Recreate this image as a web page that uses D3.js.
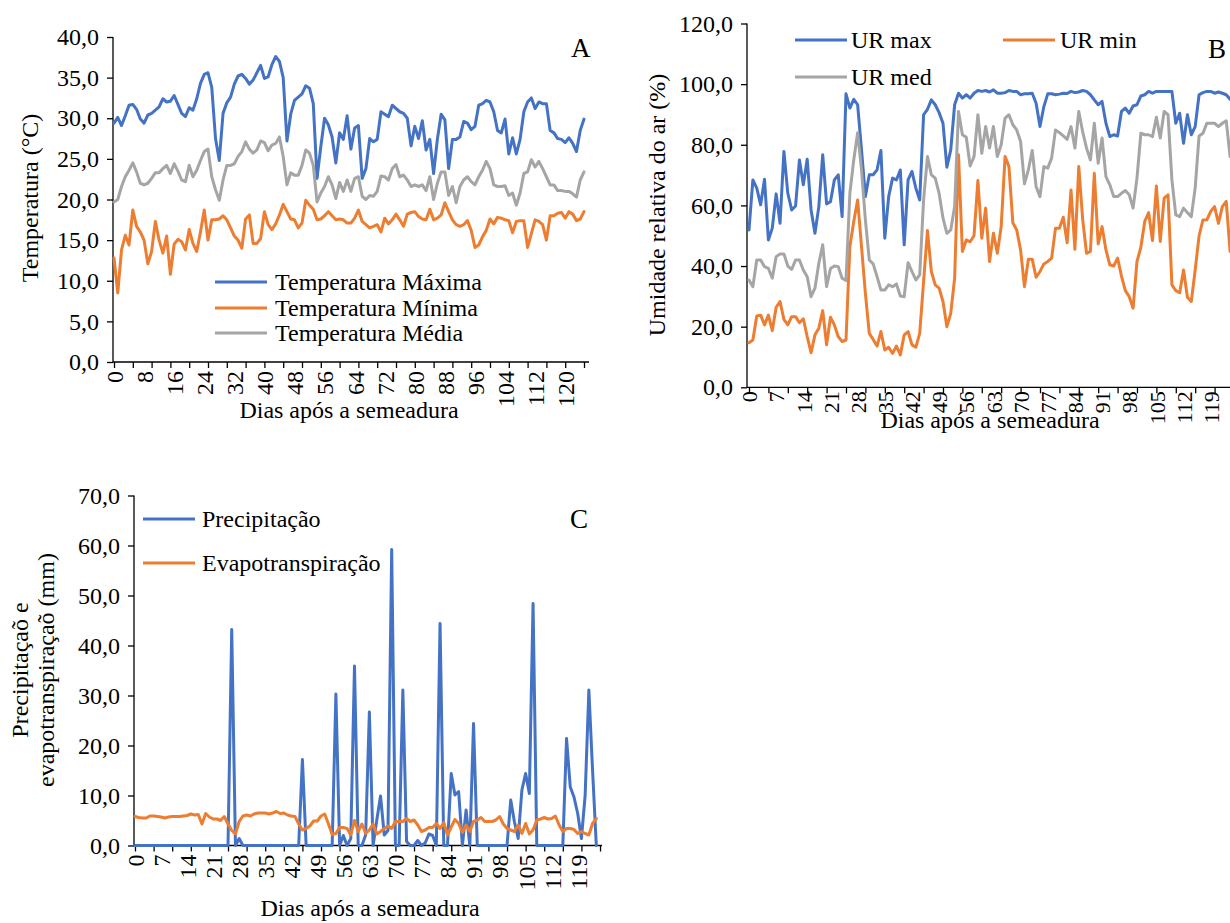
<!DOCTYPE html>
<html><head><meta charset="utf-8">
<script src="https://cdn.jsdelivr.net/npm/d3@7"></script>
<style>
body{margin:0;background:#fff}
svg{display:block}
text{font-family:"Liberation Serif","Times New Roman",serif;fill:#000}
</style>
</head><body>
<svg id="c" width="1230" height="923"></svg>
<script>
// ---------- Panel A: temperatures (°C), one value per day after sowing ----------
const tempMax = [29.4,30.1,29.1,30.3,31.6,31.7,31.1,29.9,29.4,30.4,
30.6,31.0,31.4,32.4,32.0,32.1,32.8,31.7,30.6,30.2,
31.3,31.0,32.4,34.3,35.4,35.6,33.8,27.5,24.8,30.6,
31.9,32.6,34.2,35.2,35.4,34.9,34.2,34.7,35.6,36.5,
34.9,35.1,36.6,37.6,37.0,35.0,27.2,30.5,32.2,32.6,
33.0,34.0,33.7,31.8,22.6,26.5,30.0,29.2,27.7,24.5,
28.2,27.4,30.3,26.2,28.8,29.1,22.6,23.8,27.5,27.1,
27.4,30.8,30.5,30.2,31.6,31.2,30.8,30.6,30.0,26.6,
29.0,27.5,29.7,26.1,27.4,23.2,27.4,30.5,29.8,23.8,
27.4,27.4,27.7,29.6,29.4,28.6,29.0,31.6,31.8,32.2,
32.0,30.8,28.5,28.2,29.9,25.6,27.6,25.6,27.4,30.8,
32.0,32.5,31.2,32.0,31.8,31.8,28.5,28.2,27.5,27.4,
27.0,27.6,26.9,25.9,28.5,29.9];
const tempMin = [12.8,8.5,13.8,15.6,14.4,18.7,16.7,16.0,15.0,12.1,
13.6,17.3,15.0,13.4,15.5,10.8,14.5,15.1,14.8,13.8,
16.3,14.6,13.6,16.0,18.7,15.0,17.5,17.5,17.6,18.0,
17.5,16.5,15.5,15.0,14.0,17.6,18.1,14.6,14.6,15.2,
18.5,16.9,16.3,17.0,18.1,19.4,18.5,17.6,17.5,16.5,
17.1,19.9,19.3,18.8,17.5,17.6,18.0,18.5,18.0,17.5,
17.6,17.5,17.1,
17.1,17.7,18.7,17.3,16.9,16.5,16.7,16.9,16.0,17.7,
17.0,17.5,18.2,17.5,16.7,18.2,18.4,18.5,17.9,17.6,
17.5,18.8,17.5,17.7,18.1,19.6,18.5,17.5,16.9,16.7,
16.9,17.4,16.2,14.1,14.4,15.4,16.2,17.6,17.0,17.8,
17.7,17.5,17.4,15.9,17.3,17.4,17.4,14.1,15.8,17.5,
17.3,16.9,15.0,18.0,18.0,18.3,18.4,17.7,18.5,18.2,
17.4,17.6,18.5];
const tempMed = [19.7,20.0,21.6,22.8,23.6,24.5,23.4,22.0,21.8,22.0,
22.6,23.3,23.3,23.8,24.2,23.2,24.4,23.5,22.4,22.2,
24.2,22.8,23.6,24.8,25.9,26.2,22.8,21.2,19.9,22.4,
24.2,24.2,24.4,25.3,25.9,27.1,26.2,25.7,26.1,27.2,
27.0,26.0,26.7,26.9,27.7,25.3,21.8,23.3,23.0,23.0,
24.2,26.1,25.7,24.2,19.7,20.8,21.6,22.8,21.8,20.1,
22.1,21.0,22.4,21.0,22.6,22.8,
20.4,20.0,20.5,20.4,21.0,22.9,22.8,22.4,23.8,24.3,
22.8,23.0,22.4,21.6,21.8,21.6,21.8,21.1,22.8,20.0,
22.0,23.4,23.4,20.5,21.6,19.6,21.6,22.4,22.8,22.2,
21.8,22.8,23.6,24.7,23.8,21.8,21.6,21.6,21.7,20.5,
20.8,19.3,20.8,23.2,23.4,24.9,24.0,24.7,23.8,22.8,
21.8,21.8,21.1,21.1,21.0,21.0,20.7,20.3,22.4,23.4];
const tickMarksA = [0,5,10,15,20,25,30,35,40,45,50,55,60,65,70,75,80,85,90,95,100,105,110,115,120,125];
const tickLabelsA = [0,8,16,24,32,40,48,56,64,72,80,88,96,104,112,120];
const yTicksA = [0,5,10,15,20,25,30,35,40];

// ---------- Panel B: relative humidity (%) ----------
const urMax = [51.9,68.4,65.7,60.2,68.6,48.6,52.5,63.8,54.1,77.8,
64.0,58.5,59.8,75.0,66.8,75.2,58.5,50.8,59.6,76.7,
60.5,61.2,68.4,70.1,56.3,96.8,92.1,95.0,93.2,78.3,
62.9,70.1,70.1,71.7,78.1,49.2,62.9,69.0,68.4,71.7,
47.0,68.4,71.2,65.7,61.8,89.9,91.7,94.8,93.2,90.6,
87.1,72.6,78.3,93.2,97.0,95.4,96.5,95.4,97.0,97.9,
97.6,97.9,
97.4,98.1,97.0,97.0,97.2,97.9,97.6,97.6,96.5,96.8,
96.8,97.0,93.7,86.0,92.6,96.8,96.8,96.5,96.7,97.0,
96.9,97.6,97.2,97.4,97.9,97.6,96.5,94.8,93.2,94.3,
87.1,82.7,83.3,82.9,91.0,92.1,90.4,92.8,93.2,96.1,
96.5,97.6,97.0,97.6,97.6,97.6,97.6,97.6,87.1,90.4,
80.5,89.9,83.3,86.0,96.5,97.2,97.6,97.6,97.0,97.4,
97.0,96.5,95.0];
const urMin = [14.7,15.6,23.5,23.8,20.6,23.8,18.7,26.4,28.3,22.4,
20.6,23.3,23.3,21.3,22.6,16.7,11.4,17.3,19.5,25.3,
14.0,23.1,20.6,16.7,15.1,15.6,46.4,54.7,61.8,46.4,
31.0,17.8,15.8,13.6,18.4,12.3,13.2,11.2,13.6,10.7,
17.3,18.4,14.0,13.2,17.8,34.9,51.7,38.2,33.8,32.7,
28.3,20.0,24.4,36.0,76.7,44.8,48.6,48.0,50.0,68.2,
49.2,59.1,41.5,50.8,44.2,53.0,76.1,72.8,54.3,51.9,
45.3,33.2,42.2,42.2,36.3,38.2,40.7,41.5,42.6,52.5,
52.5,56.1,47.7,65.1,45.5,72.8,55.4,44.2,44.8,70.6,
47.3,53.0,45.3,40.4,40.0,42.6,36.7,31.9,29.9,26.1,
41.5,46.2,54.7,57.6,48.4,66.4,48.1,62.4,63.5,33.8,
31.9,31.2,38.7,29.7,28.3,38.7,49.9,55.2,55.2,58.0,
59.6,54.1,59.6,61.3,44.8];
const urMed = [35.4,33.2,42.0,42.0,39.8,39.2,36.0,43.1,44.0,44.0,
40.0,38.9,42.0,42.0,38.7,36.5,29.9,32.7,40.9,47.0,
33.2,39.2,40.0,39.8,36.0,35.2,64.0,75.0,84.0,71.7,
55.2,42.0,40.7,36.5,32.1,32.1,33.8,33.2,34.1,30.1,
29.9,41.1,38.2,35.4,37.1,61.8,76.1,70.1,69.0,64.0,
55.8,50.8,51.9,59.6,91.0,83.3,82.5,73.0,76.1,89.9,
77.2,86.0,
78.9,86.0,76.1,80.0,88.8,89.9,86.6,84.9,81.1,67.1,
71.7,78.1,66.2,62.9,72.8,72.3,75.6,84.9,84.0,82.9,
81.8,86.0,78.9,91.0,84.3,78.9,75.0,87.1,73.9,82.2,
69.5,66.8,62.9,62.9,64.0,64.9,63.5,59.1,69.0,83.8,
83.3,83.3,82.7,89.1,82.2,91.0,89.9,68.4,56.9,56.3,
59.1,57.6,56.3,65.7,82.9,83.8,87.1,87.1,87.1,86.0,
87.1,87.9,76.1];
const tickMarksB = [0,5,10,15,20,25,30,35,40,45,50,55,60,65,70,75,80,85,90,95,100,105,110,115,120,125];
const tickLabelsB = [0,7,14,21,28,35,42,49,56,63,70,77,84,91,98,105,112,119];
const yTicksB = [0,20,40,60,80,100,120];

// ---------- Panel C: precipitation and evapotranspiration (mm) ----------
const precip = [0,0,0,0,0,0,0,0,0,0,
0,0,0,0,0,0,0,0,0,0,
0,0,0,0,0,0,43.2,0,1.4,0,
0,0,0,0,0,0,0,0,0,0,
0,0,0,0,0,17.2,0,0,0,0,
0,0,0,0,30.3,0,2.0,0,1.4,35.9,
0,0,2.1,26.7,0,5.1,9.9,2.1,3.0,59.2,
0,0,31.1,0.8,0,0,1.0,0,0.5,2.3,
2.0,0,44.4,0,0,14.4,10.1,10.8,0,7.1,
0,24.4,0,0,0,0,0,0,0,0,
0,9.1,4.7,1.4,11.1,14.4,10.4,48.4,0,0,
0,0,0,0,0,0,21.4,11.7,9.7,6.4,
1.4,10.0,31.1,15.0,0];
const evapo = [5.8,5.6,5.5,5.5,5.9,5.9,5.8,5.7,5.5,5.7,
5.8,5.8,5.8,5.9,6.0,6.3,6.1,6.2,4.3,6.4,
5.7,5.3,5.3,5.0,5.8,4.3,3.0,2.3,4.8,5.9,
6.1,5.9,6.3,6.5,6.5,6.5,6.3,6.5,6.8,6.4,
6.5,6.1,5.9,5.8,4.3,3.1,3.4,3.9,4.9,4.9,
5.9,6.3,4.3,2.2,2.4,3.6,3.6,3.4,2.1,5.0,
2.8,4.3,2.4,3.1,4.3,2.3,2.8,3.4,3.9,3.4,
4.8,4.8,4.8,5.4,4.8,5.1,4.1,2.8,3.1,3.6,
3.6,4.4,3.4,4.6,2.1,3.7,5.2,4.4,2.6,4.1,
2.8,4.8,5.1,5.6,4.8,4.8,4.8,5.1,5.8,4.3,
3.4,3.1,2.8,4.1,2.4,4.4,2.3,3.1,5.1,5.3,
5.6,5.3,5.4,5.9,4.1,2.8,3.4,3.4,3.2,2.4,
2.8,2.4,2.1,4.4,5.4];
const tickMarksC = [0,5,10,15,20,25,30,35,40,45,50,55,60,65,70,75,80,85,90,95,100,105,110,115,120,125];
const tickLabelsC = [0,7,14,21,28,35,42,49,56,63,70,77,84,91,98,105,112,119];
const yTicksC = [0,10,20,30,40,50,60,70];

const BLUE = "#4472C4", ORANGE = "#ED7D31", GRAY = "#A5A5A5";
const FS = 24;
const FONT = '"Liberation Serif","Times New Roman",serif';
const svg = d3.select("#c");
const fmt = v => d3.format(".1f")(v).replace(".", ",");

function styleAxis(sel, size){
  sel.attr("font-family", FONT).attr("font-size", size);
  sel.select(".domain").remove();
  sel.selectAll("line").attr("stroke", "#000").attr("stroke-width", 1.3);
  sel.selectAll("text").attr("font-family", FONT).attr("font-size", size)
    .style("font-size", size + "px").style("font-family", FONT).attr("fill", "#000");
}

function panel(o){
  const x = d3.scaleLinear().domain(o.xDomain).range(o.xRange);
  const y = d3.scaleLinear().domain(o.yDomain).range(o.yRange);
  const g = svg.append("g");
  const y0 = o.yRange[0];

  // y axis
  const ya = g.append("g").attr("transform", `translate(${o.axisX},0)`)
    .call(d3.axisLeft(y).tickValues(o.yTicks).tickSize(6).tickSizeOuter(0).tickPadding(8).tickFormat(fmt));
  styleAxis(ya, FS);
  g.append("line").attr("x1", o.axisX).attr("x2", o.axisX).attr("y1", o.yRange[1]).attr("y2", y0)
    .attr("stroke", "#000").attr("stroke-width", 1.3);

  // x axis: tick marks
  const xm = g.append("g").attr("transform", `translate(0,${y0})`)
    .call(d3.axisBottom(x).tickValues(o.tickMarks).tickSize(6).tickSizeOuter(0).tickFormat(""));
  styleAxis(xm, FS);
  g.append("line").attr("x1", o.axisX).attr("x2", o.axisEnd).attr("y1", y0).attr("y2", y0)
    .attr("stroke", "#000").attr("stroke-width", 1.3);

  // x axis: rotated labels
  const xl = g.append("g").attr("transform", `translate(0,${y0})`)
    .call(d3.axisBottom(x).tickValues(o.tickLabels).tickSize(0).tickFormat(d => d));
  styleAxis(xl, o.labelSize);
  xl.selectAll("text").attr("transform", "rotate(-90)").attr("x", -o.labelGap).attr("y", 0)
    .attr("dy", "0.35em").style("text-anchor", "end");

  // series
  o.series.forEach(s => {
    g.append("path").datum(s.values)
      .attr("fill", "none").attr("stroke", s.color).attr("stroke-width", 3)
      .attr("stroke-linejoin", "round").attr("stroke-linecap", "round")
      .attr("d", d3.line().x((d, i) => x(i)).y(d => y(d)));
  });

  // legend
  o.legend.forEach(l => {
    g.append("line").attr("x1", l.x).attr("x2", l.x + 52).attr("y1", l.y).attr("y2", l.y)
      .attr("stroke", l.color).attr("stroke-width", 3);
    g.append("text").attr("x", l.x + l.gap).attr("y", l.y).attr("dy", "0.33em")
      .style("font-size", FS + "px").text(l.label);
  });

  // titles
  g.append("text").attr("x", o.xTitle[0]).attr("y", o.xTitle[1]).attr("text-anchor", "middle")
    .style("font-size", FS + "px").text("Dias após a semeadura");
  o.yTitle.forEach(t => {
    g.append("text").attr("transform", `translate(${t.x},${t.y}) rotate(-90)`)
      .attr("text-anchor", "middle").attr("dy", "0.35em")
      .style("font-size", FS + "px").text(t.text);
  });
  g.append("text").attr("x", o.letter[0]).attr("y", o.letter[1])
    .style("font-size", "27px").text(o.letter[2]);
}

panel({
  xDomain: [0, 125], xRange: [114, 584], yDomain: [0, 40], yRange: [362, 37],
  axisX: 113, axisEnd: 589, yTicks: yTicksA, tickMarks: tickMarksA, tickLabels: tickLabelsA,
  labelGap: 9, labelSize: FS,
  series: [{values: tempMax, color: BLUE}, {values: tempMin, color: ORANGE}, {values: tempMed, color: GRAY}],
  legend: [
    {x: 215, y: 282, color: BLUE, label: "Temperatura Máxima", gap: 60},
    {x: 215, y: 308, color: ORANGE, label: "Temperatura Mínima", gap: 60},
    {x: 215, y: 333, color: GRAY, label: "Temperatura Média", gap: 60}
  ],
  xTitle: [349, 418],
  yTitle: [{x: 30, y: 198, text: "Temperatura (°C)"}],
  letter: [571, 57, "A"]
});

panel({
  xDomain: [0, 124], xRange: [749, 1230.1], yDomain: [0, 120], yRange: [387.3, 23.5],
  axisX: 747, axisEnd: 1230, yTicks: yTicksB, tickMarks: tickMarksB, tickLabels: tickLabelsB,
  labelGap: 4, labelSize: 22,
  series: [{values: urMax, color: BLUE}, {values: urMin, color: ORANGE}, {values: urMed, color: GRAY}],
  legend: [
    {x: 795, y: 40, color: BLUE, label: "UR max", gap: 56},
    {x: 1003, y: 40, color: ORANGE, label: "UR min", gap: 57},
    {x: 795, y: 77, color: GRAY, label: "UR med", gap: 56}
  ],
  xTitle: [990, 428],
  yTitle: [{x: 657, y: 205, text: "Umidade relativa do ar (%)"}],
  letter: [1208, 58, "B"]
});

panel({
  xDomain: [0, 124], xRange: [135, 596.3], yDomain: [0, 70], yRange: [845.5, 495.5],
  axisX: 134, axisEnd: 602, yTicks: yTicksC, tickMarks: tickMarksC, tickLabels: tickLabelsC,
  labelGap: 9, labelSize: FS,
  series: [{values: precip, color: BLUE}, {values: evapo, color: ORANGE}],
  legend: [
    {x: 143, y: 519, color: BLUE, label: "Precipitação", gap: 59},
    {x: 143, y: 563, color: ORANGE, label: "Evapotranspiração", gap: 59}
  ],
  xTitle: [370, 916],
  yTitle: [{x: 20, y: 670, text: "Precipitaçaõ e"}, {x: 46, y: 670, text: "evapotranspiraçaõ (mm)"}],
  letter: [570, 528, "C"]
});
</script>
</body></html>
